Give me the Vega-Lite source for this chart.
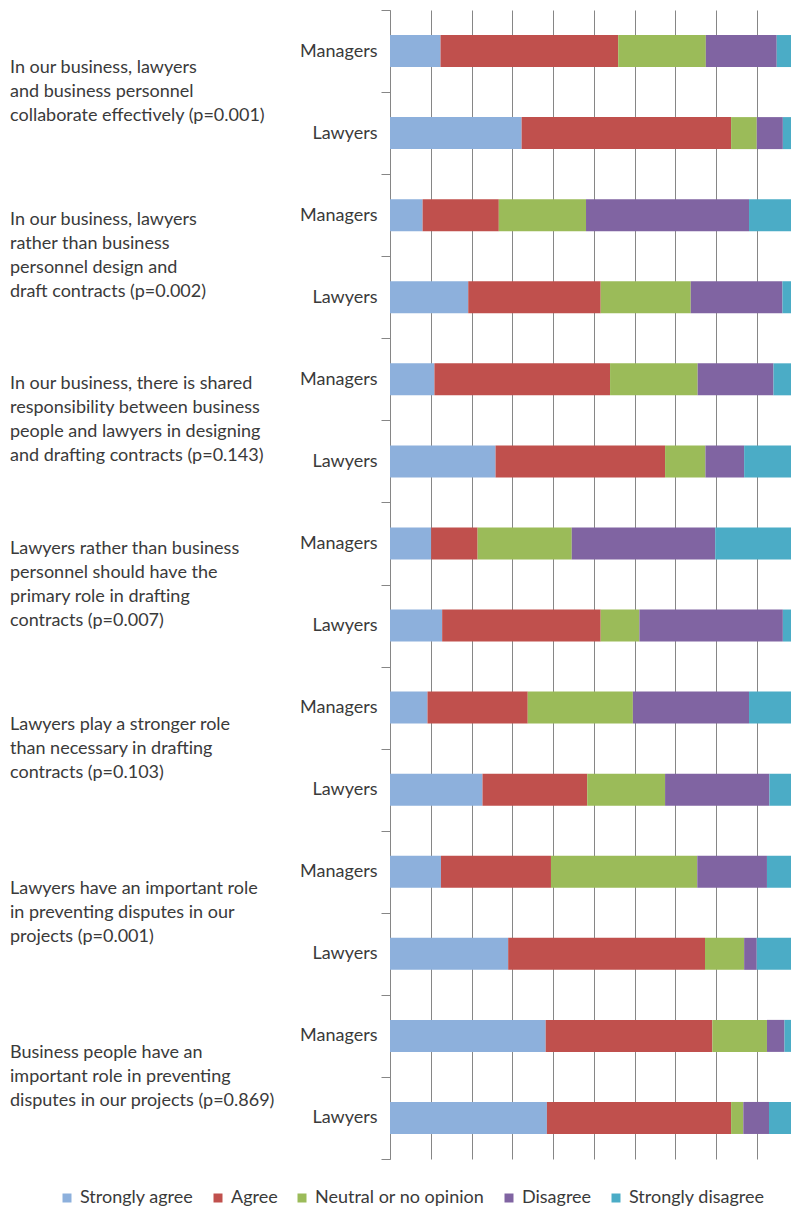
{
  "$schema": "https://vega.github.io/schema/vega-lite/v6.json",
  "padding": {"left": 10, "top": 1, "right": 0, "bottom": 5},
  "background": "white",
  "bounds": "flush",
  "spacing": 100,
  "config": {
    "view": {"stroke": null},
    "font": "Lato",
    "text": {"font": "Lato"}
  },
  "datasets": {
    "questions": [
      {"q": 1, "text": "In our business, lawyers\nand business personnel\ncollaborate effectively (p=0.001)"},
      {"q": 2, "text": "In our business, lawyers\nrather than business\npersonnel design and\ndraft contracts (p=0.002)"},
      {"q": 3, "text": "In our business, there is shared\nresponsibility between business\npeople and lawyers in designing\nand drafting contracts (p=0.143)"},
      {"q": 4, "text": "Lawyers rather than business\npersonnel should have the\nprimary role in drafting\ncontracts (p=0.007)"},
      {"q": 5, "text": "Lawyers play a stronger role\nthan necessary in drafting\ncontracts (p=0.103)"},
      {"q": 6, "text": "Lawyers have an important role\nin preventing disputes in our\nprojects (p=0.001)"},
      {"q": 7, "text": "Business people have an\nimportant role in preventing\ndisputes in our projects (p=0.869)"}
    ],
    "bars": [
      {"bar": "Q1|Managers", "response": "Strongly agree", "pct": 12.4},
      {"bar": "Q1|Managers", "response": "Agree", "pct": 43.6},
      {"bar": "Q1|Managers", "response": "Neutral or no opinion", "pct": 21.5},
      {"bar": "Q1|Managers", "response": "Disagree", "pct": 17.4},
      {"bar": "Q1|Managers", "response": "Strongly disagree", "pct": 5.1},
      {"bar": "Q1|Lawyers", "response": "Strongly agree", "pct": 32.3},
      {"bar": "Q1|Lawyers", "response": "Agree", "pct": 51.4},
      {"bar": "Q1|Lawyers", "response": "Neutral or no opinion", "pct": 6.3},
      {"bar": "Q1|Lawyers", "response": "Disagree", "pct": 6.4},
      {"bar": "Q1|Lawyers", "response": "Strongly disagree", "pct": 3.6},
      {"bar": "Q2|Managers", "response": "Strongly agree", "pct": 8.0},
      {"bar": "Q2|Managers", "response": "Agree", "pct": 18.7},
      {"bar": "Q2|Managers", "response": "Neutral or no opinion", "pct": 21.4},
      {"bar": "Q2|Managers", "response": "Disagree", "pct": 40.0},
      {"bar": "Q2|Managers", "response": "Strongly disagree", "pct": 11.9},
      {"bar": "Q2|Lawyers", "response": "Strongly agree", "pct": 19.2},
      {"bar": "Q2|Lawyers", "response": "Agree", "pct": 32.5},
      {"bar": "Q2|Lawyers", "response": "Neutral or no opinion", "pct": 22.1},
      {"bar": "Q2|Lawyers", "response": "Disagree", "pct": 22.5},
      {"bar": "Q2|Lawyers", "response": "Strongly disagree", "pct": 3.7},
      {"bar": "Q3|Managers", "response": "Strongly agree", "pct": 10.9},
      {"bar": "Q3|Managers", "response": "Agree", "pct": 43.1},
      {"bar": "Q3|Managers", "response": "Neutral or no opinion", "pct": 21.5},
      {"bar": "Q3|Managers", "response": "Disagree", "pct": 18.6},
      {"bar": "Q3|Managers", "response": "Strongly disagree", "pct": 5.9},
      {"bar": "Q3|Lawyers", "response": "Strongly agree", "pct": 25.9},
      {"bar": "Q3|Lawyers", "response": "Agree", "pct": 41.6},
      {"bar": "Q3|Lawyers", "response": "Neutral or no opinion", "pct": 9.9},
      {"bar": "Q3|Lawyers", "response": "Disagree", "pct": 9.5},
      {"bar": "Q3|Lawyers", "response": "Strongly disagree", "pct": 13.1},
      {"bar": "Q4|Managers", "response": "Strongly agree", "pct": 10.1},
      {"bar": "Q4|Managers", "response": "Agree", "pct": 11.4},
      {"bar": "Q4|Managers", "response": "Neutral or no opinion", "pct": 23.1},
      {"bar": "Q4|Managers", "response": "Disagree", "pct": 35.2},
      {"bar": "Q4|Managers", "response": "Strongly disagree", "pct": 20.2},
      {"bar": "Q4|Lawyers", "response": "Strongly agree", "pct": 12.8},
      {"bar": "Q4|Lawyers", "response": "Agree", "pct": 38.9},
      {"bar": "Q4|Lawyers", "response": "Neutral or no opinion", "pct": 9.5},
      {"bar": "Q4|Lawyers", "response": "Disagree", "pct": 35.2},
      {"bar": "Q4|Lawyers", "response": "Strongly disagree", "pct": 3.6},
      {"bar": "Q5|Managers", "response": "Strongly agree", "pct": 9.2},
      {"bar": "Q5|Managers", "response": "Agree", "pct": 24.6},
      {"bar": "Q5|Managers", "response": "Neutral or no opinion", "pct": 25.8},
      {"bar": "Q5|Managers", "response": "Disagree", "pct": 28.5},
      {"bar": "Q5|Managers", "response": "Strongly disagree", "pct": 11.9},
      {"bar": "Q5|Lawyers", "response": "Strongly agree", "pct": 22.7},
      {"bar": "Q5|Lawyers", "response": "Agree", "pct": 25.7},
      {"bar": "Q5|Lawyers", "response": "Neutral or no opinion", "pct": 19.1},
      {"bar": "Q5|Lawyers", "response": "Disagree", "pct": 25.6},
      {"bar": "Q5|Lawyers", "response": "Strongly disagree", "pct": 6.9},
      {"bar": "Q6|Managers", "response": "Strongly agree", "pct": 12.5},
      {"bar": "Q6|Managers", "response": "Agree", "pct": 27.0},
      {"bar": "Q6|Managers", "response": "Neutral or no opinion", "pct": 35.9},
      {"bar": "Q6|Managers", "response": "Disagree", "pct": 17.1},
      {"bar": "Q6|Managers", "response": "Strongly disagree", "pct": 7.5},
      {"bar": "Q6|Lawyers", "response": "Strongly agree", "pct": 29.0},
      {"bar": "Q6|Lawyers", "response": "Agree", "pct": 48.3},
      {"bar": "Q6|Lawyers", "response": "Neutral or no opinion", "pct": 9.6},
      {"bar": "Q6|Lawyers", "response": "Disagree", "pct": 3.1},
      {"bar": "Q6|Lawyers", "response": "Strongly disagree", "pct": 10.0},
      {"bar": "Q7|Managers", "response": "Strongly agree", "pct": 38.2},
      {"bar": "Q7|Managers", "response": "Agree", "pct": 40.9},
      {"bar": "Q7|Managers", "response": "Neutral or no opinion", "pct": 13.4},
      {"bar": "Q7|Managers", "response": "Disagree", "pct": 4.3},
      {"bar": "Q7|Managers", "response": "Strongly disagree", "pct": 3.2},
      {"bar": "Q7|Lawyers", "response": "Strongly agree", "pct": 38.5},
      {"bar": "Q7|Lawyers", "response": "Agree", "pct": 45.2},
      {"bar": "Q7|Lawyers", "response": "Neutral or no opinion", "pct": 3.0},
      {"bar": "Q7|Lawyers", "response": "Disagree", "pct": 6.3},
      {"bar": "Q7|Lawyers", "response": "Strongly disagree", "pct": 7.0}
    ]
  },
  "hconcat": [
    {
      "width": 280,
      "height": 1149,
      "data": {"name": "questions"},
      "transform": [
        {"calculate": "length(split(datum.text, '\\n'))", "as": "nlines"}
      ],
      "encoding": {
        "y": {"field": "q", "type": "ordinal", "scale": {"paddingInner": 0, "paddingOuter": 0}, "axis": null},
        "x": {"datum": 0, "type": "quantitative", "scale": {"domain": [0, 1]}, "axis": null},
        "text": {"field": "text"}
      },
      "layer": [
        {
          "transform": [{"filter": "datum.nlines == 3"}],
          "mark": {"type": "text", "align": "left", "baseline": "middle", "lineBreak": "\n", "lineHeight": 24, "fontSize": 18, "font": "Lato", "color": "#3a3a3a", "dy": -24}
        },
        {
          "transform": [{"filter": "datum.nlines == 4"}],
          "mark": {"type": "text", "align": "left", "baseline": "middle", "lineBreak": "\n", "lineHeight": 24, "fontSize": 18, "font": "Lato", "color": "#3a3a3a", "dy": -36}
        }
      ]
    },
    {
      "width": 401,
      "height": 1149,
      "data": {"name": "bars"},
      "transform": [
        {"calculate": "indexof(['Strongly agree','Agree','Neutral or no opinion','Disagree','Strongly disagree'], datum.response)", "as": "rank"}
      ],
      "mark": {"type": "bar", "height": {"band": 0.39}, "clip": true},
      "encoding": {
        "y": {
          "field": "bar", "type": "nominal", "sort": null,
          "scale": {"paddingInner": 0, "paddingOuter": 0},
          "axis": {
            "title": null,
            "labelExpr": "split(datum.label, '|')[1]",
            "tickBand": "extent",
            "tickSize": 9,
            "tickColor": "#868686",
            "domainColor": "#868686",
            "labelPadding": 4,
            "labelFontSize": 18,
            "labelFont": "Lato",
            "labelColor": "#3a3a3a",
            "grid": false
          }
        },
        "x": {
          "field": "pct", "type": "quantitative", "stack": "zero",
          "scale": {"domain": [0, 98.4], "nice": false},
          "axis": {
            "title": null, "labels": false, "ticks": false, "domain": false,
            "grid": true, "gridColor": "#868686", "gridWidth": 1,
            "values": [0, 10, 20, 30, 40, 50, 60, 70, 80, 90]
          }
        },
        "order": {"field": "rank", "type": "quantitative"},
        "color": {
          "field": "response", "type": "nominal",
          "scale": {
            "domain": ["Strongly agree", "Agree", "Neutral or no opinion", "Disagree", "Strongly disagree"],
            "range": ["#8DB0DC", "#C0504D", "#9BBB59", "#8064A2", "#4BACC6"]
          },
          "legend": {
            "title": null, "orient": "none", "legendX": 48, "legendY": 1179, "direction": "horizontal",
            "padding": 0,
            "symbolType": "square", "symbolSize": 81, "symbolStrokeWidth": 0,
            "labelFontSize": 18, "labelFont": "Lato", "labelColor": "#3a3a3a", "labelLimit": 400,
            "columnPadding": 15, "labelOffset": 4
          }
        }
      }
    }
  ]
}
